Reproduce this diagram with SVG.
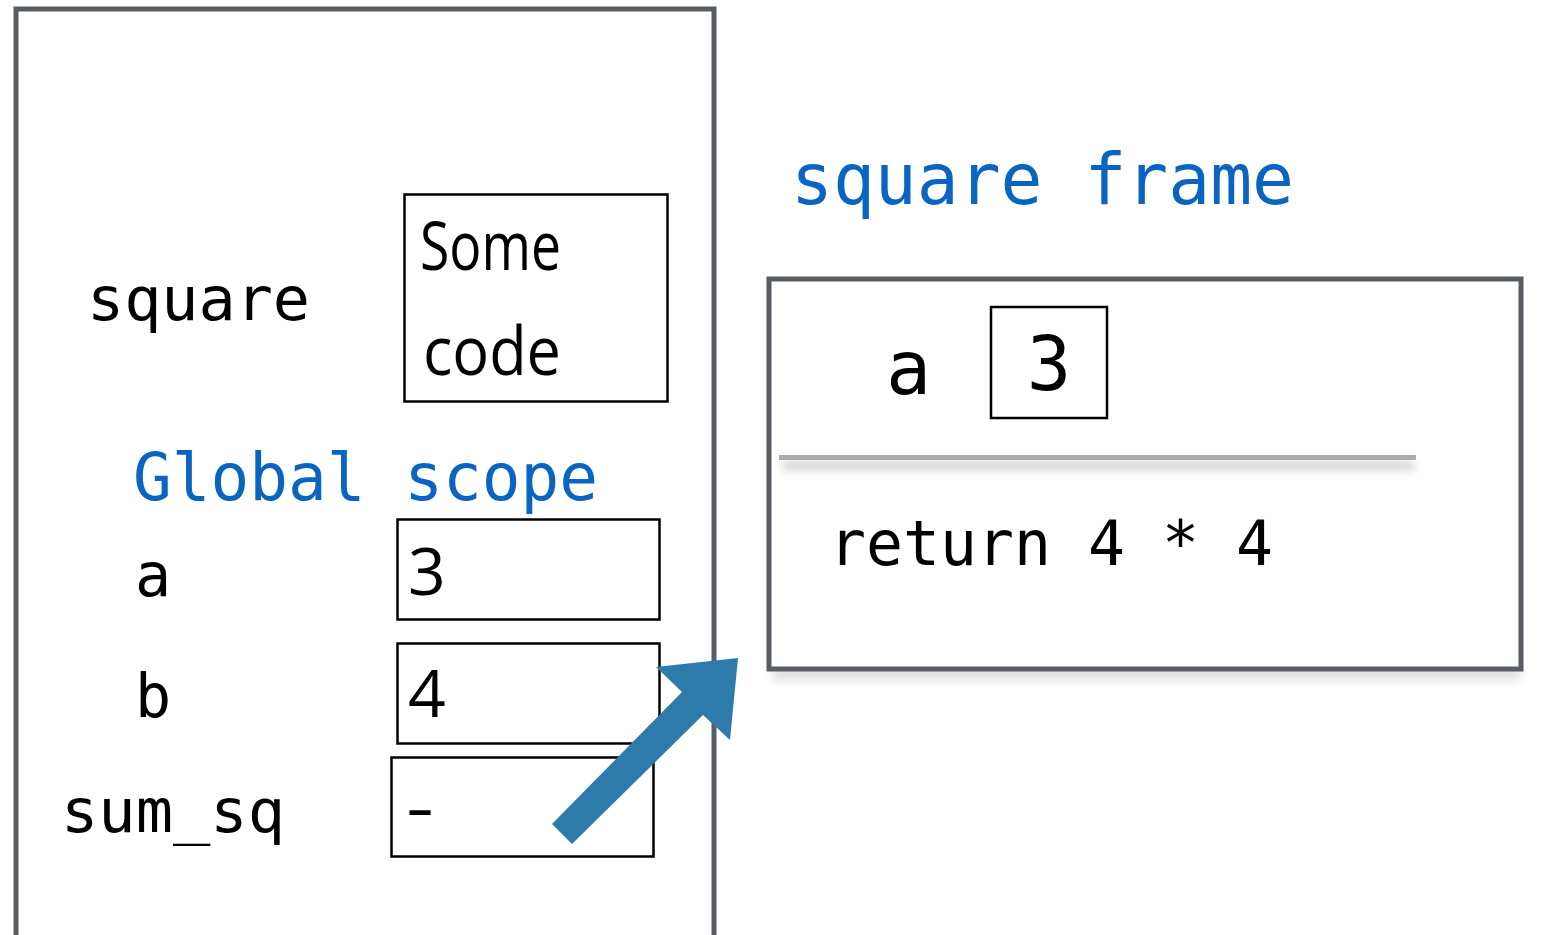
<svg xmlns="http://www.w3.org/2000/svg" width="1544" height="935" viewBox="0 0 1544 935">
  <style>
    .frame { fill: #ffffff; stroke: #585d63; stroke-width: 5; }
    .cell { fill: #ffffff; stroke: #000000; stroke-width: 2.5; }
    .mono { font-family: "DejaVu Sans Mono", "Liberation Mono", monospace; fill: #000000; }
    .sans { font-family: "Open Sans", "Liberation Sans", sans-serif; fill: #000000; }
    .title { fill: #0a64c1; }
  </style>
  <defs>
    <filter id="soft" x="-5%" y="-200%" width="110%" height="500%">
      <feGaussianBlur stdDeviation="5"/>
    </filter>
  </defs>

  <rect width="1544" height="935" fill="#ffffff"/>

  <!-- global environment -->
  <g id="global-scope">
    <rect class="frame" x="16" y="9" width="698" height="940"/>
    <text class="mono" x="87" y="320" font-size="60" textLength="223" lengthAdjust="spacingAndGlyphs">square</text>
    <g id="square-code">
      <rect class="cell" x="404.5" y="194.5" width="263" height="207"/>
      <text class="sans" x="420" y="270" font-size="67" textLength="141" lengthAdjust="spacingAndGlyphs">Some</text>
      <text class="sans" x="423" y="375" font-size="67" textLength="138" lengthAdjust="spacingAndGlyphs">code</text>
    </g>
    <text class="mono title" x="133" y="500" font-size="66" textLength="465" lengthAdjust="spacingAndGlyphs">Global scope</text>
    <g id="var-a">
      <text class="mono" x="135" y="596" font-size="60">a</text>
      <rect class="cell" x="397.5" y="519.5" width="262" height="100"/>
      <text class="sans" x="408" y="595" font-size="66">3</text>
    </g>
    <g id="var-b">
      <text class="mono" x="135" y="717" font-size="60">b</text>
      <rect class="cell" x="397.5" y="643.5" width="262" height="100"/>
      <text class="sans" x="408" y="717" font-size="66">4</text>
    </g>
    <g id="var-sum_sq">
      <text class="mono" x="61" y="832" font-size="60" textLength="224" lengthAdjust="spacingAndGlyphs">sum_sq</text>
      <rect class="cell" x="391.5" y="757.5" width="262" height="99"/>
      <text class="sans" x="406" y="830" font-size="66" textLength="28" lengthAdjust="spacingAndGlyphs">-</text>
    </g>
  </g>

  <!-- local frame of the call -->
  <g id="square-frame">
    <text class="mono title" x="791" y="204" font-size="72" textLength="503" lengthAdjust="spacingAndGlyphs">square frame</text>
    <rect x="772" y="666" width="748" height="14" fill="#000000" opacity="0.12" filter="url(#soft)"/>
    <rect class="frame" x="769" y="279" width="752" height="390"/>
    <text class="mono" x="886" y="394" font-size="75">a</text>
    <rect class="cell" x="991" y="307" width="116" height="111"/>
    <text class="mono" x="1049" y="390" font-size="74" text-anchor="middle">3</text>
    <rect x="782" y="462" width="632" height="8" fill="#000000" opacity="0.2" filter="url(#soft)"/>
    <line x1="779" y1="457.5" x2="1416" y2="457.5" stroke="#a9adad" stroke-width="5"/>
    <text class="mono" x="829" y="565" font-size="62" textLength="444" lengthAdjust="spacingAndGlyphs">return 4 * 4</text>
  </g>

  <!-- call arrow -->
  <g id="connectors">
    <polygon points="552,824 682,692 656,667 738,658 730,740 703,715 572,844" fill="#2d7aab"/>
  </g>
</svg>
